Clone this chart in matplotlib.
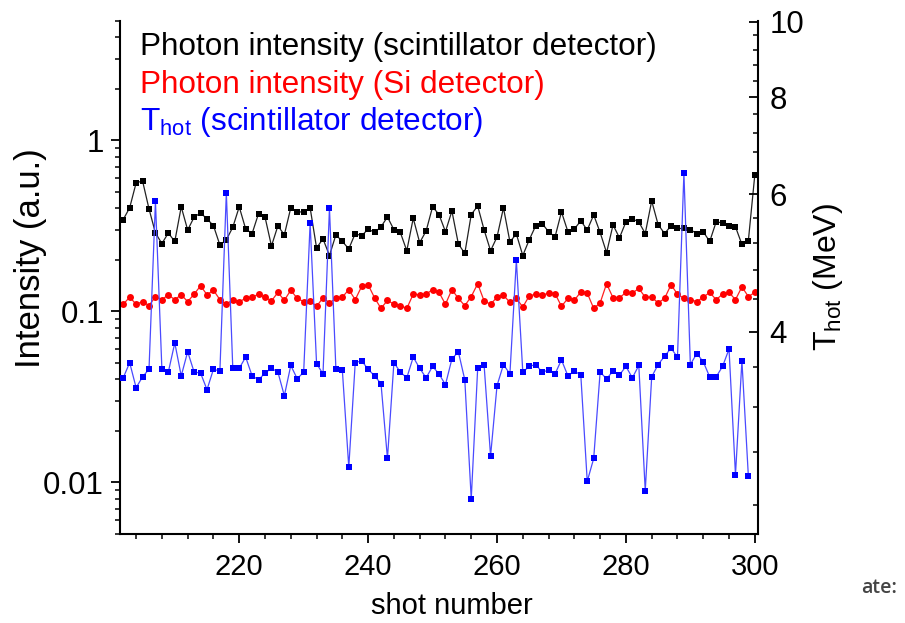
import numpy as np
import matplotlib
matplotlib.use("Agg")
import matplotlib.pyplot as plt
from matplotlib.ticker import FixedLocator, FixedFormatter, MultipleLocator, LogLocator, NullFormatter

plt.rcParams['font.family'] = ['Liberation Sans', 'DejaVu Sans']
plt.rcParams['mathtext.fontset'] = 'custom'
plt.rcParams['mathtext.rm'] = 'Liberation Sans'

# shot numbers
shots = np.arange(202, 301)
shots_thot = np.arange(202, 300)

# photon intensity, scintillator detector (a.u.)
scint = [0.344, 0.403, 0.563, 0.578, 0.397, 0.287, 0.249, 0.287, 0.256, 0.408,
         0.299, 0.355, 0.376, 0.347, 0.317, 0.244, 0.262, 0.310, 0.408, 0.303,
         0.285, 0.373, 0.356, 0.241, 0.316, 0.280, 0.403, 0.381, 0.381, 0.403,
         0.235, 0.265, 0.212, 0.280, 0.256, 0.232, 0.285, 0.276, 0.303, 0.289,
         0.312, 0.356, 0.300, 0.289, 0.226, 0.350, 0.252, 0.295, 0.408, 0.368,
         0.292, 0.386, 0.248, 0.218, 0.368, 0.413, 0.299, 0.226, 0.272, 0.403,
         0.255, 0.283, 0.212, 0.262, 0.316, 0.326, 0.292, 0.272, 0.381, 0.292,
         0.303, 0.338, 0.299, 0.366, 0.289, 0.220, 0.320, 0.269, 0.333, 0.347,
         0.333, 0.285, 0.442, 0.321, 0.285, 0.316, 0.305, 0.305, 0.300, 0.285,
         0.292, 0.256, 0.333, 0.329, 0.317, 0.312, 0.246, 0.259, 0.627]

# photon intensity, Si detector (a.u.)
si = [0.110, 0.121, 0.110, 0.114, 0.108, 0.122, 0.117, 0.125, 0.117, 0.125,
      0.114, 0.126, 0.141, 0.125, 0.133, 0.117, 0.110, 0.117, 0.114, 0.119,
      0.121, 0.126, 0.121, 0.115, 0.129, 0.116, 0.133, 0.119, 0.114, 0.115,
      0.107, 0.120, 0.112, 0.119, 0.121, 0.134, 0.117, 0.140, 0.143, 0.120,
      0.104, 0.116, 0.110, 0.108, 0.104, 0.126, 0.125, 0.126, 0.134, 0.129,
      0.110, 0.134, 0.119, 0.108, 0.122, 0.145, 0.115, 0.110, 0.121, 0.124,
      0.113, 0.119, 0.106, 0.123, 0.126, 0.124, 0.128, 0.127, 0.107, 0.119,
      0.116, 0.130, 0.128, 0.104, 0.112, 0.145, 0.120, 0.120, 0.129, 0.128,
      0.136, 0.121, 0.121, 0.112, 0.119, 0.143, 0.126, 0.119, 0.117, 0.114,
      0.121, 0.129, 0.117, 0.126, 0.129, 0.117, 0.139, 0.122, 0.129]

# T_hot from scintillator detector (MeV)
thot = [3.49, 3.65, 3.39, 3.50, 3.58, 5.88, 3.58, 3.55, 3.87, 3.51,
        3.77, 3.55, 3.54, 3.37, 3.58, 3.56, 6.03, 3.59, 3.59, 3.71,
        3.51, 3.47, 3.54, 3.59, 3.55, 3.31, 3.62, 3.48, 3.55, 5.51,
        3.64, 3.53, 5.76, 3.58, 3.57, 2.68, 3.65, 3.67, 3.58, 3.51,
        3.43, 2.75, 3.65, 3.55, 3.49, 3.71, 3.59, 3.49, 3.61, 3.53,
        3.42, 3.69, 3.77, 3.47, 2.44, 3.59, 3.62, 2.77, 3.41, 3.63,
        3.53, 4.94, 3.55, 3.61, 3.63, 3.55, 3.57, 3.53, 3.68, 3.51,
        3.56, 3.52, 2.57, 2.75, 3.55, 3.48, 3.56, 3.52, 3.61, 3.49,
        3.62, 2.50, 3.50, 3.63, 3.72, 3.81, 3.71, 6.39, 3.63, 3.75,
        3.66, 3.50, 3.50, 3.61, 3.80, 2.62, 3.67, 2.61]

fig = plt.figure(figsize=(9.05, 6.23), dpi=100)
ax = fig.add_axes([0.1326, 0.1429, 0.705, 0.824])
ax2 = ax.twinx()

ax.plot(shots, scint, color='#222222', lw=0.9, marker='s', ms=4.3, mfc='black', mec='black', mew=0)
ax.plot(shots, si, color='#ff2020', lw=0.9, marker='o', ms=5.0, mfc='red', mec='red', mew=0)
ax2.plot(shots_thot, thot, color='#4a4aff', lw=0.9, marker='s', ms=4.6, mfc='#0000ff', mec='#0000ff', mew=0)

ax.set_yscale('log')
ax.set_ylim(0.005, 5)
ax.set_xlim(201.5, 300.5)
ax2.set_yscale('log')
ax2.set_ylim(2.2, 10.03)

ax.yaxis.set_major_locator(FixedLocator([0.01, 0.1, 1]))
ax.yaxis.set_major_formatter(FixedFormatter(['0.01', '0.1', '1']))
ax.yaxis.set_minor_locator(LogLocator(base=10, subs=np.arange(2, 10)))
ax.yaxis.set_minor_formatter(NullFormatter())

ax2.yaxis.set_major_locator(FixedLocator([4, 6, 8, 10]))
ax2.yaxis.set_major_formatter(FixedFormatter(['4', '6', '8', '10']))
ax2.yaxis.set_minor_locator(MultipleLocator(0.4))
ax2.yaxis.set_minor_formatter(NullFormatter())

ax.xaxis.set_major_locator(MultipleLocator(20))
ax.xaxis.set_minor_locator(MultipleLocator(4))

for a in (ax, ax2):
    a.spines['top'].set_visible(False)
    for s in a.spines.values():
        s.set_linewidth(1.5)
ax.spines['right'].set_visible(False)
ax2.spines['left'].set_visible(False)
ax2.spines['bottom'].set_visible(False)

ax.tick_params(axis='both', which='major', direction='out', length=6.5, width=1.3, labelsize=22.5, pad=5)
ax.tick_params(axis='both', which='minor', direction='out', length=3.6, width=1.1)
ax.tick_params(axis='x', which='major', labelsize=21, pad=7)
ax2.tick_params(axis='y', which='major', direction='in', length=6.5, width=1.3, labelsize=22.5, pad=8)
ax2.tick_params(axis='y', which='minor', direction='in', length=3.6, width=1.1)

ax.set_xlabel('shot number', fontsize=21, va='center')
ax.set_ylabel('Intensity (a.u.)', fontsize=25, va='center', ha='center')
ax2.set_ylabel('T$_{\\mathrm{hot}}$ (MeV)', fontsize=23, va='center', ha='center')
ax.xaxis.set_label_coords(0.52, -0.14)
ax.yaxis.set_label_coords(-0.141, 0.538)
ax2.yaxis.set_label_coords(1.11, 0.5)

ax.text(0.031, 0.933, 'Photon intensity (scintillator detector)', transform=ax.transAxes,
        fontsize=22.7, color='black', va='baseline')
ax.text(0.031, 0.859, 'Photon intensity (Si detector)', transform=ax.transAxes,
        fontsize=22.7, color='red', va='baseline')
ax.text(0.031, 0.787, 'T$_{\\mathrm{hot}}$ (scintillator detector)', transform=ax.transAxes,
        fontsize=22.7, color='blue', va='baseline')

fig.text(0.951, 1 - 588 / 623, 'ate:', fontsize=14, color='#444444', fontweight='semibold',
         family=['Open Sans', 'DejaVu Sans'], ha='left', va='center')

fig.savefig('out.png', dpi=100)
